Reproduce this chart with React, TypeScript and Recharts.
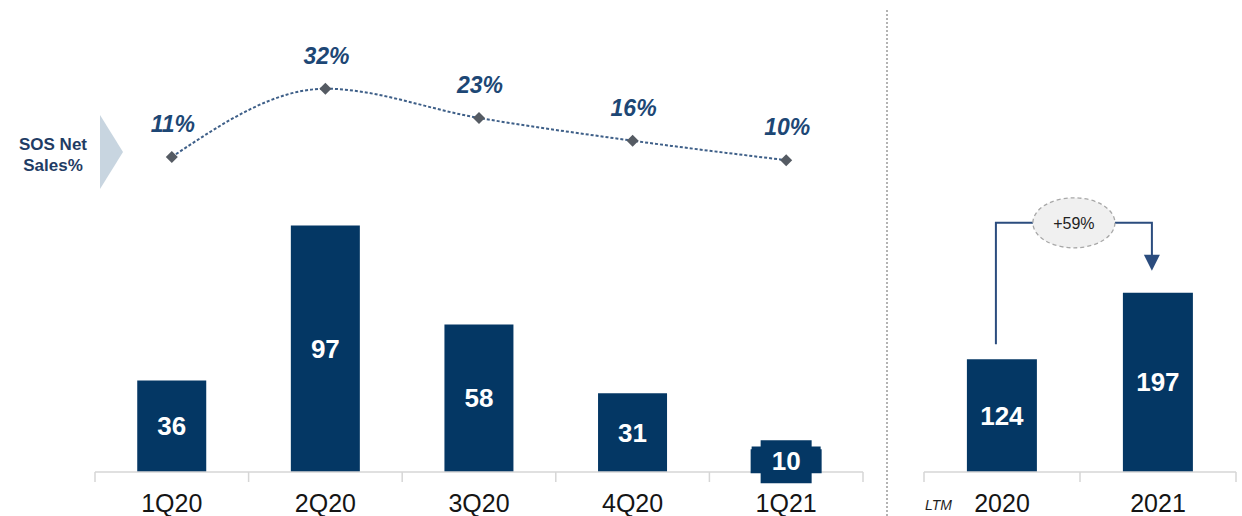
import { ComposedChart, Bar, Line, XAxis, YAxis, LabelList } from "recharts";

const QUARTERS = ["1Q20", "2Q20", "3Q20", "4Q20", "1Q21"];
const SOS_NET_SALES = [36, 97, 58, 31, 10];
const SOS_PCT = [11, 32, 23, 16, 10];
const LTM_YEARS = ["2020", "2021"];
const LTM_SALES = [124, 197];
const LTM_GROWTH = "+59%";

const NAVY = "#043764";
const PCT_BLUE = "#1d4775";
const AXIS_GREY = "#d6d6d6";
const FONT = "'Liberation Sans', Arial, sans-serif";

const CHART_H = 516;
const XAXIS_H = 44;
const AXIS_Y = CHART_H - XAXIS_H;

const LEFT_W = 880;
const LEFT_MARGIN = { top: 40, right: 17, left: 95, bottom: 0 };
const LEFT_BAND = (LEFT_W - LEFT_MARGIN.left - LEFT_MARGIN.right) / QUARTERS.length;

const RIGHT_X = 890;
const RIGHT_W = 352;
const RIGHT_MARGIN = { top: 40, right: 6, left: 34, bottom: 0 };
const RIGHT_BAND = (RIGHT_W - RIGHT_MARGIN.left - RIGHT_MARGIN.right) / LTM_YEARS.length;

const quarterData = QUARTERS.map((q, i) => ({ q, sales: SOS_NET_SALES[i], pct: SOS_PCT[i] }));
const ltmData = LTM_YEARS.map((y, i) => ({ y, sales: LTM_SALES[i] }));

function makeTick(band: number, count: number, ltm: boolean) {
  return (props: any) => {
    const { x, payload, index } = props;
    const half = band / 2;
    return (
      <g>
        <line x1={x - half} x2={x - half} y1={AXIS_Y} y2={AXIS_Y + 10} stroke={AXIS_GREY} strokeWidth={1.5} />
        {index === count - 1 && (
          <line x1={x + half} x2={x + half} y1={AXIS_Y} y2={AXIS_Y + 10} stroke={AXIS_GREY} strokeWidth={1.5} />
        )}
        <text x={x} y={AXIS_Y + 40} textAnchor="middle" fontSize={25} fill="#151515" fontFamily={FONT}>
          {payload.value}
        </text>
        {ltm && index === 0 && (
          <text x={x - half + 1} y={AXIS_Y + 38} fontSize={14} fontStyle="italic" fill="#1e1e1e" fontFamily={FONT}>
            LTM
          </text>
        )}
      </g>
    );
  };
}

const Diamond = (props: any) => {
  const { cx, cy } = props;
  if (cx == null || cy == null) return null;
  const r = 6;
  return <polygon points={`${cx},${cy - r} ${cx + r},${cy} ${cx},${cy + r} ${cx - r},${cy}`} fill="#555b63" />;
};

const PctLabel = (props: any) => {
  const { x, y, value } = props;
  return (
    <text x={x + 1} y={y - 25} textAnchor="middle" fontSize={23} fontWeight="bold" fontStyle="italic" fill={PCT_BLUE} fontFamily={FONT}>
      {value}%
    </text>
  );
};

const BarValueLabel = (props: any) => {
  const { x, y, width, height, value } = props;
  const cx = x + width / 2;
  if (height < 40) {
    // small bar: value sits in a notched box over the axis
    const cy = y + height / 2 + 2;
    const ow = width / 2 + 1;
    const iw = width / 2 - 9;
    const pts = [
      [cx - iw, cy - 21], [cx + iw, cy - 21], [cx + iw, cy - 12], [cx + ow, cy - 12],
      [cx + ow, cy + 12], [cx + iw, cy + 12], [cx + iw, cy + 22], [cx - iw, cy + 22],
      [cx - iw, cy + 12], [cx - ow, cy + 12], [cx - ow, cy - 12], [cx - iw, cy - 12],
    ].map((p) => p.join(",")).join(" ");
    return (
      <g>
        <polygon points={pts} fill={NAVY} />
        <text x={cx} y={cy + 9} textAnchor="middle" fontSize={26} fontWeight="bold" fill="#fff" fontFamily={FONT}>
          {value}
        </text>
      </g>
    );
  }
  return (
    <text x={cx} y={y + height / 2 + 9} textAnchor="middle" fontSize={26} fontWeight="bold" fill="#fff" fontFamily={FONT}>
      {value}
    </text>
  );
};

const GrowthBracket = (props: any) => {
  const { x, y, width, height, value, index } = props;
  if (index !== 0) return null;
  const px = height / value;
  const base = y + height;
  const x1 = x + width / 2 - 6;
  const x2 = x1 + RIGHT_BAND;
  const top2 = base - LTM_SALES[1] * px;
  const by = top2 - 70;
  const ex = (x1 + x2) / 2;
  const tip = top2 - 22;
  return (
    <g>
      <polyline points={`${x1},${y - 15} ${x1},${by} ${ex - 41},${by}`} fill="none" stroke="#2b4c7e" strokeWidth={2} />
      <polyline points={`${ex + 41},${by} ${x2},${by} ${x2},${tip - 14}`} fill="none" stroke="#2b4c7e" strokeWidth={2} />
      <polygon points={`${x2 - 8},${tip - 16} ${x2 + 8},${tip - 16} ${x2},${tip}`} fill="#2b4c7e" />
      <ellipse cx={ex} cy={by} rx={41} ry={25} fill="#f0f0f0" stroke="#a8a8a8" strokeWidth={1.3} strokeDasharray="4 3" />
      <text x={ex} y={by + 6} textAnchor="middle" fontSize={16} fill="#222" fontFamily={FONT}>
        {LTM_GROWTH}
      </text>
    </g>
  );
};

export default function App() {
  return (
    <div style={{ position: "absolute", left: 0, top: 0, width: 1242, height: 516, background: "#fff", fontFamily: FONT }}>
      <svg width={1242} height={516} style={{ position: "absolute", left: 0, top: 0 }}>
        <text x={53} y={150} textAnchor="middle" fontSize={17} fontWeight="bold" fill="#1f3c64" fontFamily={FONT}>
          SOS Net
        </text>
        <text x={53} y={171} textAnchor="middle" fontSize={17} fontWeight="bold" fill="#1f3c64" fontFamily={FONT}>
          Sales%
        </text>
        <polygon points="100,115 123,152 100,189" fill="#c8d5e0" />
        <line x1={887} x2={887} y1={10} y2={516} stroke="#9a9a9a" strokeWidth={1.5} strokeDasharray="2 2" />
      </svg>

      <div style={{ position: "absolute", left: 0, top: 0 }}>
        <ComposedChart width={LEFT_W} height={CHART_H} data={quarterData} margin={LEFT_MARGIN} barCategoryGap="27.5%">
          <XAxis
            dataKey="q"
            height={XAXIS_H}
            axisLine={{ stroke: AXIS_GREY, strokeWidth: 1.5 }}
            tickLine={false}
            interval={0}
            tick={makeTick(LEFT_BAND, QUARTERS.length, false)}
          />
          <YAxis yAxisId="val" hide domain={[0, 170]} allowDataOverflow />
          <YAxis yAxisId="pct" hide domain={[-86, 47]} allowDataOverflow />
          <Bar yAxisId="val" dataKey="sales" fill={NAVY} isAnimationActive={false}>
            <LabelList dataKey="sales" content={BarValueLabel} />
          </Bar>
          <Line
            yAxisId="pct"
            dataKey="pct"
            type="monotone"
            stroke="#3e5f88"
            strokeWidth={2}
            strokeDasharray="3 2"
            dot={<Diamond />}
            activeDot={false}
            isAnimationActive={false}
          >
            <LabelList dataKey="pct" content={PctLabel} />
          </Line>
        </ComposedChart>
      </div>

      <div style={{ position: "absolute", left: RIGHT_X, top: 0 }}>
        <ComposedChart width={RIGHT_W} height={CHART_H} data={ltmData} margin={RIGHT_MARGIN} barCategoryGap="27.5%">
          <XAxis
            dataKey="y"
            height={XAXIS_H}
            axisLine={{ stroke: AXIS_GREY, strokeWidth: 1.5 }}
            tickLine={false}
            interval={0}
            tick={makeTick(RIGHT_BAND, LTM_YEARS.length, true)}
          />
          <YAxis hide domain={[0, 475]} allowDataOverflow />
          <Bar dataKey="sales" fill={NAVY} isAnimationActive={false}>
            <LabelList dataKey="sales" content={BarValueLabel} />
            <LabelList dataKey="sales" content={GrowthBracket} />
          </Bar>
        </ComposedChart>
      </div>
    </div>
  );
}
